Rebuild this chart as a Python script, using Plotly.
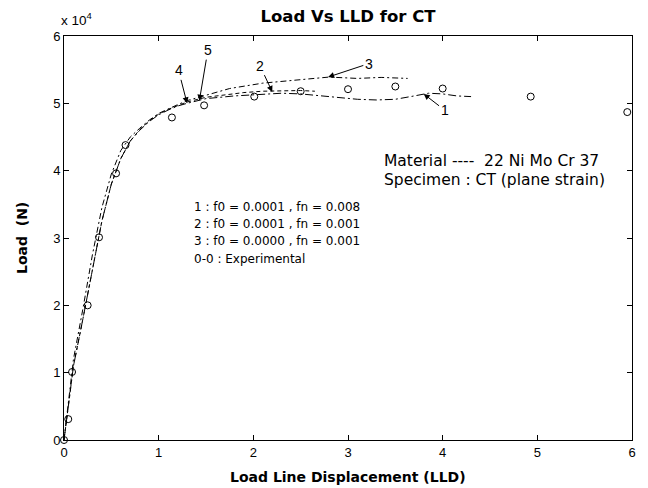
import plotly.graph_objects as go

# Experimental load-displacement points (LLD in mm, load in N)
exp_lld = [0, 0.045, 0.085, 0.25, 0.37, 0.55, 0.65, 1.14, 1.48, 2.01, 2.5, 3.0, 3.5, 4.0, 4.93, 5.95]
exp_load = [0, 3100, 10100, 20000, 30100, 39600, 43800, 47900, 49700, 51000, 51800, 52100, 52500, 52200, 51000, 48700]

# Simulated curve 1 : f0 = 0.0001, fn = 0.008
sim1_lld = [0, 0.05, 0.1, 0.2, 0.3, 0.4, 0.5, 0.6, 0.7, 0.8, 0.9, 1.0, 1.1, 1.2, 1.3, 1.5,
            1.8, 2.0, 2.3, 2.5, 2.7, 2.9, 3.1, 3.3, 3.5, 3.7, 3.85, 4.0, 4.15, 4.3]
sim1_load = [0, 5500, 11000, 18000, 25500, 32500, 38000, 41800, 44400, 46000, 47300, 48300,
             49000, 49600, 50000, 50700, 51100, 51300, 51500, 51400, 51100, 50800, 50600,
             50500, 50600, 51100, 51500, 51400, 51100, 51000]

# Simulated curve 2 : f0 = 0.0001, fn = 0.001
sim2_lld = [0, 0.05, 0.1, 0.2, 0.3, 0.4, 0.5, 0.6, 0.7, 0.8, 0.9, 1.0, 1.1, 1.2, 1.3, 1.5,
            1.7, 1.9, 2.1, 2.3, 2.5, 2.65]
sim2_load = [0, 5500, 11000, 18000, 25500, 32500, 38000, 41800, 44400, 46100, 47400, 48400,
             49100, 49700, 50200, 50900, 51300, 51600, 51800, 51900, 51900, 51800]

# Simulated curve 3 : f0 = 0.0000, fn = 0.001
sim3_lld = [0, 0.05, 0.1, 0.2, 0.3, 0.4, 0.5, 0.6, 0.7, 0.8, 0.9, 1.0, 1.1, 1.2, 1.3, 1.5,
            1.75, 2.1, 2.45, 2.8, 3.1, 3.35, 3.63]
sim3_load = [0, 6000, 12000, 19500, 27500, 34500, 39500, 43000, 45000, 46300, 47500, 48500,
             49200, 49800, 50400, 51200, 52200, 53000, 53500, 53900, 53700, 53850, 53700]

y_ticks = [0, 10000, 20000, 30000, 40000, 50000, 60000]
y_tick_text = ["0", "1", "2", "3", "4", "5", "6"]
x_ticks = [0, 1, 2, 3, 4, 5, 6]

legend_lines = [
    "1 : f0 = 0.0001 , fn = 0.008",
    "2 : f0 = 0.0001 , fn = 0.001",
    "3 : f0 = 0.0000 , fn = 0.001",
    "0-0 : Experimental",
]

FONT = "Liberation Sans, Arial, Helvetica, sans-serif"
WIDE = "DejaVu Sans, Verdana, sans-serif"
INK = "black"

fig = go.Figure()

fig.add_trace(go.Scatter(x=sim1_lld, y=sim1_load, mode="lines",
                         line=dict(color=INK, width=1, dash="8px,3px,2px,3px"),
                         showlegend=False))
fig.add_trace(go.Scatter(x=sim2_lld, y=sim2_load, mode="lines",
                         line=dict(color=INK, width=1, dash="4px,3px"),
                         showlegend=False))
fig.add_trace(go.Scatter(x=sim3_lld, y=sim3_load, mode="lines",
                         line=dict(color=INK, width=1, dash="6px,3px,2px,3px"),
                         showlegend=False))
fig.add_trace(go.Scatter(x=exp_lld, y=exp_load, mode="markers",
                         marker=dict(symbol="circle-open", size=7, color=INK,
                                     line=dict(width=1, color=INK)),
                         showlegend=False, cliponaxis=False))

annotations = []

# Curve labels with arrows: (label x, label y, tip x, tip y, text)
arrow_specs = [
    (1.21, 54900, 1.30, 50000, "4"),
    (1.52, 57900, 1.43, 50400, "5"),
    (2.07, 55600, 2.20, 51700, "2"),
    (3.22, 55900, 2.79, 53900, "3"),
    (4.02, 49000, 3.80, 51400, "1"),
]
for lx, ly, tx, ty, t in arrow_specs:
    annotations.append(dict(
        x=tx, y=ty, xref="x", yref="y", ax=lx, ay=ly, axref="x", ayref="y",
        text=t, showarrow=True, arrowhead=2, arrowsize=1.2, arrowwidth=1,
        arrowcolor=INK, standoff=0, font=dict(family=FONT, size=14, color=INK)))

# Material / specimen description
annotations.append(dict(x=3.36, y=41400, xref="x", yref="y", xanchor="left", yanchor="middle",
                        text="Material ----  22 Ni Mo Cr 37", showarrow=False,
                        font=dict(family=WIDE, size=15.5, color=INK)))
annotations.append(dict(x=3.36, y=38600, xref="x", yref="y", xanchor="left", yanchor="middle",
                        text="Specimen : CT (plane strain)", showarrow=False,
                        font=dict(family=WIDE, size=15.5, color=INK)))

# Curve key
for i, line in enumerate(legend_lines):
    annotations.append(dict(x=1.35, y=34600 - i * 2550, xref="x", yref="y",
                            xanchor="left", yanchor="middle", text=line, showarrow=False,
                            font=dict(family=WIDE, size=12, color=INK)))

# Exponent marker for the load axis
annotations.append(dict(x=0, y=1, xref="paper", yref="paper", xanchor="left", yanchor="bottom",
                        xshift=-5, yshift=6, text="x 10<sup>4</sup>", showarrow=False,
                        font=dict(family=FONT, size=13.5, color=INK)))

# Axis titles
annotations.append(dict(x=0.5, y=0, xref="paper", yref="paper", xanchor="center",
                        yanchor="middle", yshift=-37, text="<b>Load Line Displacement (LLD)</b>",
                        showarrow=False, font=dict(family=WIDE, size=14, color=INK)))
annotations.append(dict(x=0, y=0.5, xref="paper", yref="paper", xanchor="center",
                        yanchor="middle", xshift=-42, textangle=-90, text="<b>Load  (N)</b>",
                        showarrow=False, font=dict(family=WIDE, size=14, color=INK)))

fig.update_layout(
    width=648, height=488,
    margin=dict(l=64, r=16, t=36, b=48),
    paper_bgcolor="white", plot_bgcolor="white",
    title=dict(text="<b>Load Vs LLD for CT</b>", x=0.537, xanchor="center",
               y=1 - 16 / 488, yanchor="middle",
               font=dict(family=WIDE, size=16.5, color=INK)),
    annotations=annotations,
    showlegend=False,
)

axis_common = dict(showline=True, linecolor=INK, linewidth=1, mirror="ticks",
                   ticks="inside", ticklen=5, tickcolor=INK, tickwidth=1,
                   showgrid=False, zeroline=False,
                   tickfont=dict(family=FONT, size=13, color=INK))

fig.update_xaxes(range=[0, 6], tickvals=x_ticks, **axis_common)
fig.update_yaxes(range=[0, 60000], tickvals=y_ticks, ticktext=y_tick_text, **axis_common)

fig.write_html("out.html")
